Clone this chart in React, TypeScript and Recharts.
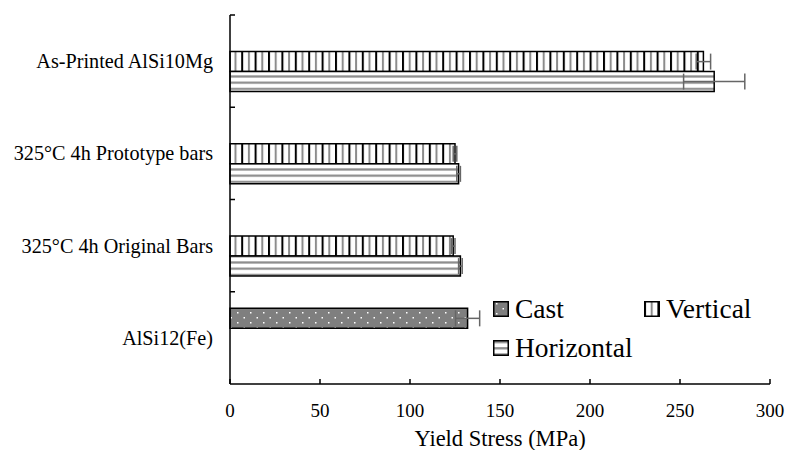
import { Bar, BarChart, ErrorBar, Legend, XAxis, YAxis } from "recharts";

// #region Sample data
const categories = [
  "As-Printed AlSi10Mg",
  "325°C 4h Prototype bars",
  "325°C 4h Original Bars",
  "AlSi12(Fe)",
];
const castValues = [null, null, null, 132];
const castErrors = [null, null, null, 6.7];
const verticalValues = [263, 125, 124, null];
const verticalErrors = [4, 1, 1, null];
const horizontalValues = [269, 127, 128, null];
const horizontalErrors = [17, 1, 1, null];
const xTicks = [0, 50, 100, 150, 200, 250, 300];
// #endregion

const data = categories.map((name, i) => ({
  name,
  cast: castValues[i],
  castErr: castErrors[i],
  vertical: verticalValues[i],
  verticalErr: verticalErrors[i],
  horizontal: horizontalValues[i],
  horizontalErr: horizontalErrors[i],
}));

const WIDTH = 787;
const HEIGHT = 450;
const MARGIN = { top: 15, right: 17, bottom: 0, left: 0 };
const X_AXIS_H = 66;
const BAND = (HEIGHT - MARGIN.top - MARGIN.bottom - X_AXIS_H) / categories.length;
const FONT = '"Liberation Serif", "Times New Roman", serif';

const SERIES_ORDER = ["cast", "vertical", "horizontal"];
const FILLS: Record<string, string> = {
  cast: "url(#castFill)",
  vertical: "url(#verticalFill)",
  horizontal: "url(#horizontalFill)",
};

const Patterns = () => (
  <defs>
    <pattern id="castFill" width="13" height="10" patternUnits="userSpaceOnUse">
      <rect width="13" height="10" fill="#7f7f7f" />
      <rect x="3" y="2" width="1.5" height="1.5" fill="#ffffff" />
      <rect x="9.5" y="7" width="1.5" height="1.5" fill="#ffffff" />
    </pattern>
    <pattern id="verticalFill" width="13.4" height="10" patternUnits="userSpaceOnUse">
      <rect width="13.4" height="10" fill="#ffffff" />
      <rect x="0" width="2" height="10" fill="#000000" />
      <rect x="6.7" width="2" height="10" fill="#8c8c8c" />
    </pattern>
    <pattern id="horizontalFill" width="10" height="6.2" patternUnits="userSpaceOnUse">
      <rect width="10" height="6.2" fill="#ffffff" />
      <rect y="1" width="10" height="2.2" fill="#8c8c8c" />
    </pattern>
  </defs>
);

const CategoryTick = (props: any) => {
  const { x, y, payload } = props;
  const top = y - BAND / 2;
  return (
    <g>
      <line x1={x} y1={top} x2={x + 5} y2={top} stroke="#000" strokeWidth={1.5} />
      <text
        x={x - 17}
        y={y}
        textAnchor="end"
        dominantBaseline="central"
        fontFamily={FONT}
        fontSize={20.2}
        fill="#000"
      >
        {payload.value}
      </text>
    </g>
  );
};

const ValueTick = (props: any) => {
  const { x, y, payload } = props;
  return (
    <g>
      <line x1={x} y1={y} x2={x} y2={y - 5} stroke="#000" strokeWidth={1.5} />
      <text
        x={x}
        y={y + 26}
        textAnchor="middle"
        dominantBaseline="central"
        fontFamily={FONT}
        fontSize={19}
        fill="#000"
      >
        {payload.value}
      </text>
    </g>
  );
};

const renderLegend = (props: any) => {
  const items = [...(props.payload ?? [])].sort(
    (a: any, b: any) => SERIES_ORDER.indexOf(a.dataKey) - SERIES_ORDER.indexOf(b.dataKey)
  );
  return (
    <div style={{ display: "flex", flexWrap: "wrap", width: 302, fontFamily: FONT }}>
      {items.map((entry: any) => (
        <div
          key={`legend-${entry.dataKey}`}
          style={{ width: 151, height: 39, display: "flex", alignItems: "center" }}
        >
          <svg width={16} height={16} style={{ marginRight: 6 }}>
            <rect
              x={0.75}
              y={0.75}
              width={14.5}
              height={14.5}
              fill={FILLS[entry.dataKey]}
              stroke="#000"
              strokeWidth={1.5}
            />
          </svg>
          <span style={{ fontSize: 27.5, color: "#000", lineHeight: "39px" }}>{entry.value}</span>
        </div>
      ))}
    </div>
  );
};

export default function App() {
  return (
    <div style={{ position: "absolute", left: 0, top: 0, background: "#fff" }}>
      <BarChart
        width={WIDTH}
        height={HEIGHT}
        data={data}
        layout="vertical"
        margin={MARGIN}
        barCategoryGap="18%"
        barGap={0}
      >
        <Patterns />
        <XAxis
          type="number"
          domain={[0, 300]}
          ticks={xTicks}
          height={X_AXIS_H}
          axisLine={{ stroke: "#000", strokeWidth: 1.5 }}
          tickLine={false}
          tickSize={0}
          tickMargin={0}
          tick={<ValueTick />}
          label={{
            value: "Yield Stress (MPa)",
            position: "insideBottom",
            offset: 4,
            fontFamily: FONT,
            fontSize: 22.5,
            fill: "#000",
          }}
        />
        <YAxis
          type="category"
          dataKey="name"
          width={230}
          axisLine={{ stroke: "#000", strokeWidth: 1.5 }}
          tickLine={false}
          tickSize={0}
          tickMargin={0}
          tick={<CategoryTick />}
          interval={0}
        />
        <Legend
          content={renderLegend}
          layout="horizontal"
          verticalAlign="middle"
          wrapperStyle={{ position: "absolute", left: 493, top: 289, width: 302 }}
        />
        <Bar
          dataKey="cast"
          name="Cast"
          fill={FILLS.cast}
          stroke="#000"
          strokeWidth={1.5}
          isAnimationActive={false}
        >
          <ErrorBar dataKey="castErr" direction="x" width={8} stroke="#666" strokeWidth={1.5} />
        </Bar>
        <Bar
          dataKey="vertical"
          name="Vertical"
          fill={FILLS.vertical}
          stroke="#000"
          strokeWidth={1.5}
          isAnimationActive={false}
        >
          <ErrorBar dataKey="verticalErr" direction="x" width={8} stroke="#666" strokeWidth={1.5} />
        </Bar>
        <Bar
          dataKey="horizontal"
          name="Horizontal"
          fill={FILLS.horizontal}
          stroke="#000"
          strokeWidth={1.5}
          isAnimationActive={false}
        >
          <ErrorBar
            dataKey="horizontalErr"
            direction="x"
            width={8}
            stroke="#666"
            strokeWidth={1.5}
          />
        </Bar>
      </BarChart>
    </div>
  );
}
